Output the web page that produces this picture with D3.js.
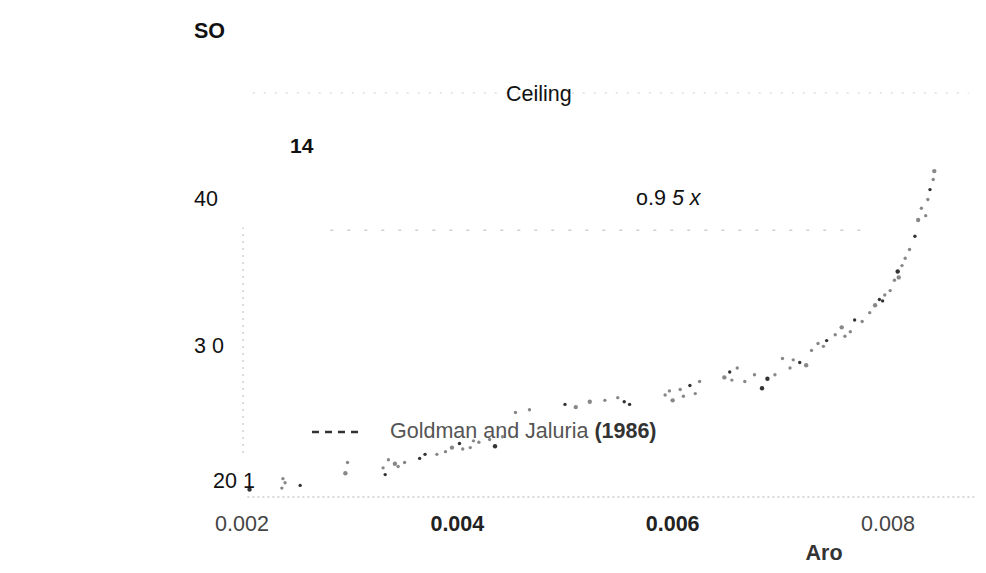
<!DOCTYPE html>
<html>
  <head>
    <meta charset="UTF-8">
    <title>Ceiling scatter</title>
    <script src="https://d3js.org/d3.v7.min.js"></script>
    <style>
      body { margin: 0; background: #fff; }
      svg { display: block; font-family: "Liberation Sans", Arial, sans-serif; }
    </style>
  </head>
  <body>
    <div id="chart"></div>
    <script>
      // tick values and the (scanned) labels that stand for them
      const xTicks = [0.002, 0.004, 0.006, 0.008];
      const xTickLabels = ["0.002", "0.004", "0.006", "0.008"];
      const xTickBold = [false, true, true, false];
      const yTicks = [50, 40, 30, 20];
      const yTickLabels = ["SO", "40", "3 0", "20 1"];
      const yTickBold = [true, false, false, false];

      const xs = [2.07, 2.37, 2.40, 2.38, 2.54, 2.96, 2.98, 3.31, 3.33, 3.36, 3.42, 3.51, 3.65, 3.81,
        3.89, 3.95, 4.02, 4.12, 4.15, 4.30, 4.35, 4.42, 4.54, 4.67, 5.00, 5.23, 5.37, 5.49, 5.60,
        5.93, 6.00, 6.07, 6.16, 6.21, 6.25, 6.48, 6.53, 6.60, 6.67, 6.76, 6.83, 6.95, 7.02, 7.09,
        7.18, 7.24, 7.29, 7.35, 7.43, 7.51, 7.57, 7.65, 7.69, 7.76, 7.83, 7.88, 7.92, 7.97, 8.02,
        8.06, 8.09, 8.13, 8.16, 8.20, 8.25, 8.28, 8.31, 8.37, 8.39, 8.42, 8.43,
        3.45, 3.70, 4.05, 4.20, 5.10, 5.55, 5.97, 6.10, 6.55, 6.88, 7.12, 7.40, 7.60, 7.95, 8.10, 8.35];
      const ys = [19.3, 19.4, 19.8, 20.1, 19.6, 20.5, 21.3, 20.9, 20.4, 21.5, 21.2, 21.3, 21.6, 21.9,
        22.1, 22.4, 22.7, 22.4, 22.9, 23.0, 22.5, 23.2, 25.0, 25.2, 25.6, 25.8, 25.9, 26.1, 25.6,
        26.3, 25.9, 26.7, 27.0, 26.4, 27.3, 27.6, 28.0, 28.3, 27.3, 27.8, 26.8, 27.8, 29.0, 28.3,
        28.7, 28.5, 29.6, 30.1, 30.3, 30.7, 31.2, 30.9, 31.7, 31.6, 32.2, 32.7, 33.1, 33.4, 33.7,
        34.4, 35.0, 35.4, 35.9, 36.5, 37.4, 38.5, 39.3, 39.9, 40.5, 41.1, 41.6,
        21.0, 21.9, 22.3, 22.8, 25.4, 25.8, 26.6, 26.2, 27.4, 27.5, 28.9, 29.9, 30.6, 33.0, 34.6, 38.8];

      // faint guide lines: ceiling, 0.95x level, baseline
      const ceilingY = 46.25, ceilingX = [2.1, 8.75];
      const level95Y = 37.8, level95X = [2.82, 7.83];
      const baseY = 18.75, baseX = [2.05, 8.8];
      const wallX = 2.01, wallY = [22.0, 38.0];

      const width = 986, height = 573;
      const svg = d3.select("#chart").append("svg")
        .attr("width", width)
        .attr("height", height);

      // scanned page is a bit stretched, so y uses one segment per tick
      const x = d3.scaleLinear().domain([2, 8]).range([242, 888]);
      const y = d3.scaleLinear().domain([20, 30, 40, 50]).range([480, 345, 198, 30]);

      // faint guide lines
      const guide = (x0, x1, y0, y1, dash, op) => svg.append("line")
        .attr("x1", x(x0)).attr("x2", x(x1))
        .attr("y1", y(y0)).attr("y2", y(y1))
        .attr("stroke", "#999")
        .attr("stroke-width", 1.5)
        .attr("stroke-dasharray", dash)
        .attr("opacity", op);
      guide(ceilingX[0], ceilingX[1], ceilingY, ceilingY, "2 9", 0.3);
      guide(level95X[0], level95X[1], level95Y, level95Y, "3 14", 0.45);
      guide(baseX[0], baseX[1], baseY, baseY, "2 3", 0.5);
      guide(wallX, wallX, wallY[0], wallY[1], "2 5", 0.45);

      // data points
      svg.append("g").selectAll("circle")
        .data(d3.zip(xs, ys))
        .join("circle")
        .attr("cx", d => x(d[0]))
        .attr("cy", d => y(d[1]))
        .attr("r", (d, i) => i % 5 === 0 ? 2.2 : 1.7)
        .attr("fill", (d, i) => i % 4 === 0 ? "#333" : "#888");

      // y tick labels, left aligned like the scan
      svg.append("g").selectAll("text")
        .data(yTicks)
        .join("text")
        .attr("x", (d, i) => i === 3 ? 213 : 194)
        .attr("y", d => y(d) + 8)
        .attr("font-size", 21.5)
        .attr("font-weight", (d, i) => yTickBold[i] ? "bold" : "normal")
        .attr("fill", "#111")
        .text((d, i) => yTickLabels[i]);

      // x tick labels
      svg.append("g").selectAll("text")
        .data(xTicks)
        .join("text")
        .attr("x", d => x(d * 1000))
        .attr("y", 531)
        .attr("text-anchor", "middle")
        .attr("font-size", 21.5)
        .attr("font-weight", (d, i) => xTickBold[i] ? "bold" : "normal")
        .attr("fill", (d, i) => xTickBold[i] ? "#222" : "#444")
        .text((d, i) => xTickLabels[i]);

      // axis name
      svg.append("text")
        .attr("x", 824).attr("y", 560)
        .attr("text-anchor", "middle")
        .attr("font-size", 21.5)
        .attr("font-weight", "bold")
        .attr("fill", "#333")
        .text("Aro");

      // annotations
      svg.append("text").attr("x", 506).attr("y", 101)
        .attr("font-size", 21.5).attr("fill", "#111").text("Ceiling");
      svg.append("text").attr("x", 290).attr("y", 153)
        .attr("font-size", 21).attr("font-weight", "bold").attr("fill", "#111").text("14");

      const lab = svg.append("text").attr("x", 636).attr("y", 205)
        .attr("font-size", 21.5).attr("fill", "#111");
      lab.append("tspan").text("o.9 ");
      lab.append("tspan").attr("font-style", "italic").text("5 x");

      // legend
      svg.append("line")
        .attr("x1", 312).attr("x2", 360)
        .attr("y1", 432).attr("y2", 432)
        .attr("stroke", "#333")
        .attr("stroke-width", 2.5)
        .attr("stroke-dasharray", "7 6");
      const leg = svg.append("text").attr("x", 390).attr("y", 438)
        .attr("font-size", 21.5).attr("fill", "#555");
      leg.append("tspan").text("Goldman and Jaluria ");
      leg.append("tspan").attr("font-weight", "bold").attr("fill", "#333").text("(1986)");
    </script>
  </body>
</html>
